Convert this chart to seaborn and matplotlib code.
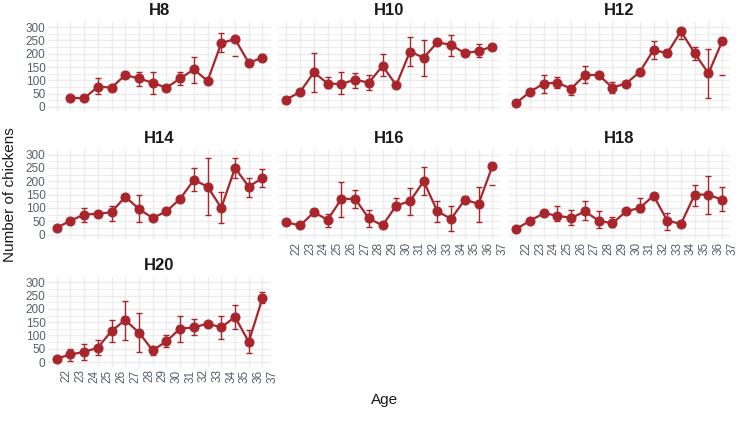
import numpy as np
import pandas as pd
import matplotlib
matplotlib.use("Agg")
import matplotlib.pyplot as plt
import matplotlib.transforms as mtransforms
import seaborn as sns

ages = list(range(22, 38))
houses = ["H8", "H10", "H12", "H14", "H16", "H18", "H20"]
nan = np.nan

# mean number of chickens per age, one list per house
h8 = [nan, 35, 32, 76, 73, 120, 107, 91, 72, 107, 141, 98, 240, 255, 166, 185]
h10 = [28, 57, 130, 88, 86, 103, 91, 154, 82, 208, 185, 243, 233, 202, 210, 227]
h12 = [15, 57, 88, 91, 69, 120, 120, 73, 88, 132, 214, 202, 284, 202, 126, 246]
h14 = [25, 52, 75, 78, 84, 142, 96, 62, 87, 134, 205, 180, 100, 250, 180, 212]
h16 = [46, 34, 84, 55, 134, 134, 61, 34, 109, 125, 200, 87, 59, 131, 115, 256]
h18 = [21, 52, 80, 71, 62, 87, 52, 42, 87, 100, 146, 52, 40, 150, 150, 130]
h20 = [13, 29, 38, 54, 117, 158, 111, 44, 78, 126, 130, 145, 130, 170, 76, 240]

# error bar ends (lower / upper), nan where no bar is visible
h8_lo = [nan, nan, nan, 48, 65, 108, 78, 48, 64, 82, 91, nan, 208, nan, 156, 172]
h8_hi = [nan, nan, nan, 107, 82, 132, 132, 132, 80, 132, 189, nan, 277, nan, 176, 198]
h10_lo = [18, nan, 57, 73, 48, 73, 63, 116, nan, 154, 116, 238, 192, nan, 189, nan]
h10_hi = [38, nan, 202, 111, 130, 128, 120, 198, nan, 261, 252, 248, 271, nan, 237, nan]
h12_lo = [nan, nan, 53, 73, 46, 91, 113, 52, nan, 126, 179, 190, 256, 176, 32, nan]
h12_hi = [nan, nan, 120, 111, 76, 154, 127, 94, nan, 138, 246, 214, 284, 224, 217, nan]
h14_lo = [nan, nan, 46, 68, 52, 136, 46, nan, nan, 128, 165, 75, 42, 212, 142, 177]
h14_hi = [nan, nan, 100, 88, 109, 148, 150, nan, nan, 140, 250, 287, 159, 287, 212, 246]
h16_lo = [38, nan, 79, 30, 67, 100, 30, nan, 92, 75, 150, 46, 12, 121, 46, nan]
h16_hi = [54, nan, 89, 78, 196, 167, 92, nan, 137, 174, 252, 127, 109, 146, 177, nan]
h18_lo = [nan, nan, nan, 52, 37, 55, 25, 30, nan, 84, nan, 17, 35, 109, 77, 87]
h18_hi = [nan, nan, nan, 109, 92, 125, 90, 65, nan, 137, nan, 80, 45, 187, 221, 177]
h20_lo = [nan, 6, 9, 25, 76, 84, 38, 25, 57, 76, 101, 135, 88, 126, 34, 221]
h20_hi = [nan, 50, 67, 84, 160, 231, 185, 57, 101, 174, 161, 151, 174, 214, 120, 265]

# lone cap marks with no visible bar
stray_house = ["H8", "H12", "H16"]
stray_age = [35, 37, 37]
stray_val = [192, 120, 187]

means = [h8, h10, h12, h14, h16, h18, h20]
lows = [h8_lo, h10_lo, h12_lo, h14_lo, h16_lo, h18_lo, h20_lo]
highs = [h8_hi, h10_hi, h12_hi, h14_hi, h16_hi, h18_hi, h20_hi]

rows = []
for h, m, lo, hi in zip(houses, means, lows, highs):
    for a, v, l, u in zip(ages, m, lo, hi):
        rows.append({"house": h, "age": a, "mean": v, "lo": l, "hi": u})
df = pd.DataFrame(rows)

red = "#a8252b"
tick_col = "#556070"
grid_col = "#ebebeb"

sns.set_style("white")
plt.rcParams["font.family"] = ["Liberation Sans", "DejaVu Sans"]

g = sns.FacetGrid(df, col="house", col_wrap=3, col_order=houses,
                  sharex=True, sharey=True, height=1.2, aspect=1.8)
g.map_dataframe(sns.lineplot, x="age", y="mean", color=red, marker="o",
                markersize=6.5, markeredgecolor=red, linewidth=1.6,
                errorbar=None)

fig = g.figure
fig.set_size_inches(7.4, 4.37)
fig.subplots_adjust(left=0.0654, right=0.987, top=0.949, bottom=0.161,
                    wspace=0.034, hspace=0.43)

bottom_axes = {"H20", "H16", "H18"}
left_axes = {"H8", "H14", "H20"}
# x labels sit a little right of their ticks in the original
offset = mtransforms.ScaledTranslation(10 / 100, 0, fig.dpi_scale_trans)

for h, ax in g.axes_dict.items():
    sub = df[(df.house == h) & df.lo.notna()]
    ax.errorbar(sub.age, sub["mean"],
                yerr=[sub["mean"] - sub.lo, sub.hi - sub["mean"]],
                fmt="none", ecolor=red, elinewidth=1.0, capsize=2.5,
                capthick=1.0, zorder=1)
    for sh, sa, sv in zip(stray_house, stray_age, stray_val):
        if sh == h:
            ax.plot([sa], [sv], marker="_", color=red, markersize=4, mew=1.0)

    ax.set_xlim(21.4, 37.6)
    ax.set_ylim(-17, 318)
    ax.set_xticks(ages)
    ax.set_yticks(range(0, 301, 50))
    ax.set_yticks(range(25, 300, 50), minor=True)
    ax.grid(True, which="major", color=grid_col, linewidth=1.0)
    ax.grid(True, which="minor", axis="y", color=grid_col, linewidth=0.6)
    ax.set_axisbelow(True)
    for s in ax.spines.values():
        s.set_visible(False)
    ax.tick_params(length=0, labelsize=8.5, labelcolor=tick_col, pad=2)
    ax.set_title(h, fontsize=12, fontweight="bold", color="#1a1a1a", pad=5)
    ax.set_xlabel("")
    ax.set_ylabel("")

    if h in bottom_axes:
        ax.tick_params(axis="x", labelbottom=True)
        ax.set_xticklabels([str(a) for a in ages], rotation=90)
        for lab in ax.get_xticklabels():
            lab.set_transform(lab.get_transform() + offset)
    else:
        ax.tick_params(axis="x", labelbottom=False)
    ax.tick_params(axis="y", labelleft=h in left_axes)

fig.text(10 / 740, 1 - 195 / 437, "Number of chickens", rotation=90,
         ha="center", va="center", fontsize=11, color="#1a1a1a")
fig.text(385 / 740, 1 - 400 / 437, "Age", ha="center", va="center",
         fontsize=11, color="#1a1a1a")

fig.savefig("out.png", dpi=100)
